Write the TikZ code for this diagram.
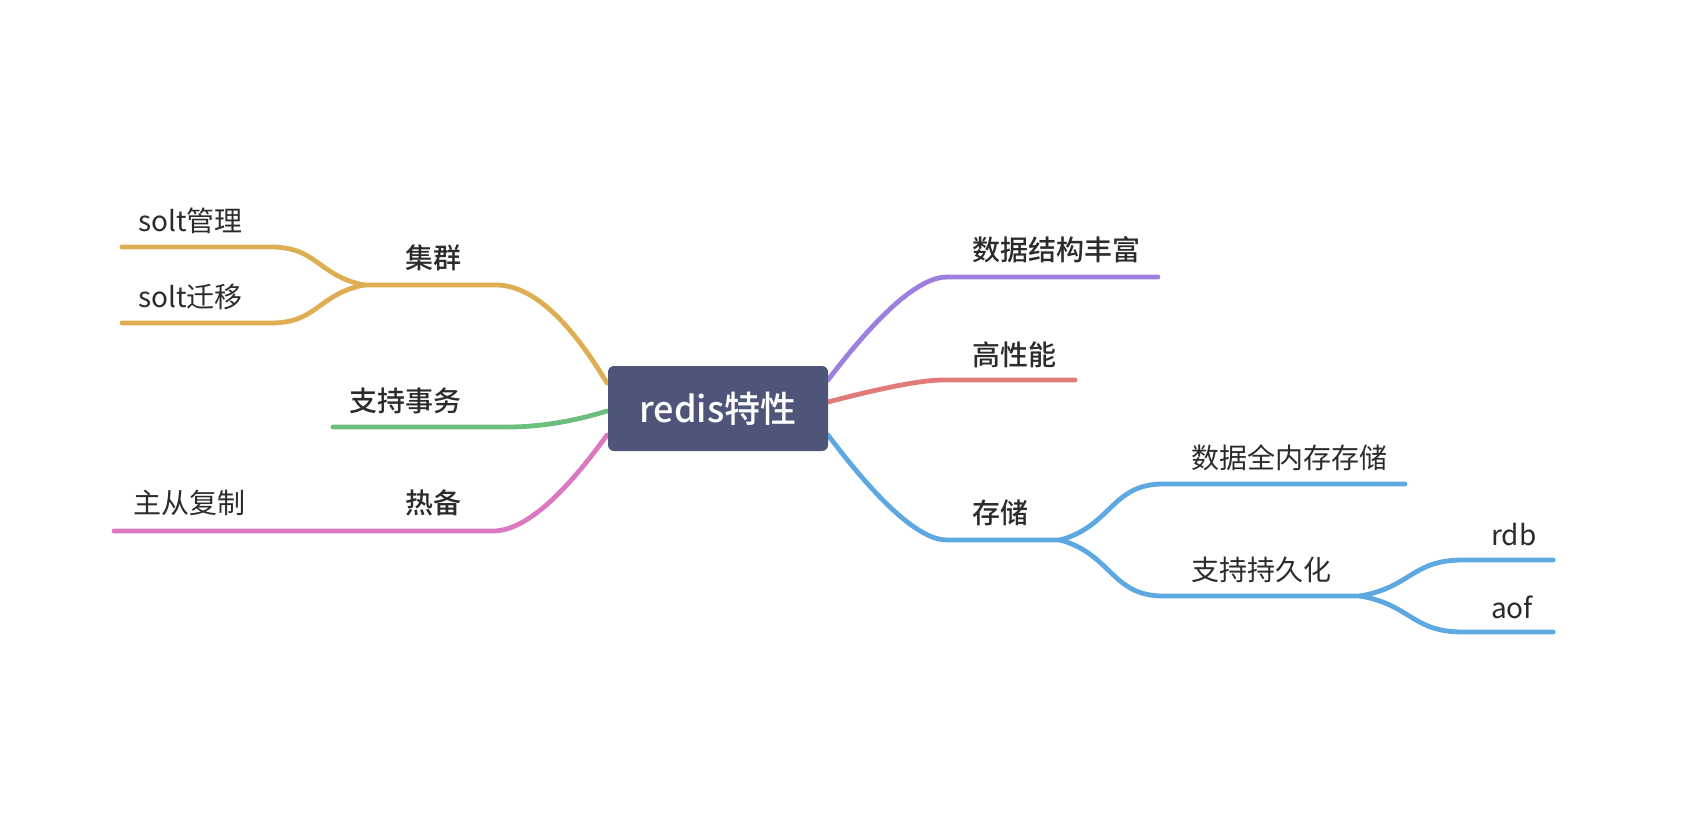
\documentclass[tikz,border=0pt]{standalone}
\usepackage{fontspec}
\setmainfont{Noto Sans CJK SC}
\newfontfamily\medfont{Noto Sans CJK SC Medium}
\definecolor{cgold}{HTML}{DDAE52}
\definecolor{cgreen}{HTML}{6BBE7B}
\definecolor{cpink}{HTML}{DC78C2}
\definecolor{cpurple}{HTML}{9C7FDE}
\definecolor{cred}{HTML}{E07B79}
\definecolor{cblue}{HTML}{5DA8E0}
\definecolor{cbox}{HTML}{4E5579}
\definecolor{ctext}{HTML}{2B2B2B}
\begin{document}
\begin{tikzpicture}[x=1pt,y=-1pt,
  conn/.style={line width=4.8pt, line cap=round, line join=round},
  lbl/.style={inner sep=0pt, text=ctext, font=\fontsize{28}{34}\selectfont},
  blbl/.style={inner sep=0pt, text=ctext, font=\fontsize{28}{34}\selectfont\medfont},
  rootbox/.style={fill=cbox, rounded corners=6pt, minimum width=220pt, minimum height=85pt, inner sep=0pt, text=white, font=\fontsize{36}{40}\selectfont\medfont}
]
\useasboundingbox (0,0) rectangle (1686,824);
% branch points
\coordinate (rPu) at (828,380);
\coordinate (rRe) at (828,402);
\coordinate (rBl) at (828,435);
\coordinate (lGo) at (607,383);
\coordinate (lGr) at (607,411);
\coordinate (lPi) at (607,435);
% purple
\coordinate (puQ) at (947,277);
\coordinate (puE) at (1158,277);
% red
\coordinate (reQ) at (943,380);
\coordinate (reE) at (1075,380);
% blue
\coordinate (blQ) at (947,540);
\coordinate (blS) at (1060,540);
\coordinate (b1Q) at (1163,484);
\coordinate (b1E) at (1405,484);
\coordinate (b2Q) at (1163,596);
\coordinate (b2S) at (1360,596);
\coordinate (b3Q) at (1463,560);
\coordinate (b3E) at (1553,560);
\coordinate (b4Q) at (1463,632);
\coordinate (b4E) at (1553,632);
% gold
\coordinate (goQ) at (496,285);
\coordinate (goS) at (364,285);
\coordinate (g1Q) at (271,247);
\coordinate (g1E) at (122,247);
\coordinate (g2Q) at (271,323);
\coordinate (g2E) at (122,323);
% green
\coordinate (grQ) at (507,427);
\coordinate (grE) at (333,427);
% pink
\coordinate (piQ) at (493,531);
\coordinate (piE) at (114,531);

% connectors
\draw[conn, cpurple] (rPu) .. controls (880.3,311.3) and (920,277) .. (puQ) -- (puE);
\draw[conn, cred] (rRe) .. controls (884,387.3) and (922.3,380) .. (reQ) -- (reE);
\draw[conn, cblue] (rBl) .. controls (880.7,505) and (920.3,540) .. (blQ) -- (blS);
\draw[conn, cblue] (blS) .. controls (1111.5,526) and (1111.5,484) .. (b1Q) -- (b1E);
\draw[conn, cblue] (blS) .. controls (1111.5,554) and (1111.5,596) .. (b2Q) -- (b2S);
\draw[conn, cblue] (b2S) .. controls (1411.5,587) and (1411.5,560) .. (b3Q) -- (b3E);
\draw[conn, cblue] (b2S) .. controls (1411.5,605) and (1411.5,632) .. (b4Q) -- (b4E);
\draw[conn, cgold] (lGo) .. controls (567.7,317.7) and (530.7,285) .. (goQ) -- (goS);
\draw[conn, cgold] (goS) .. controls (317.5,275.5) and (317.5,247) .. (g1Q) -- (g1E);
\draw[conn, cgold] (goS) .. controls (317.5,294.5) and (317.5,323) .. (g2Q) -- (g2E);
\draw[conn, cgreen] (lGr) .. controls (572.3,421.7) and (539,427) .. (grQ) -- (grE);
\draw[conn, cpink] (lPi) .. controls (561,499) and (523,531) .. (piQ) -- (piE);

% root
\node[rootbox] (root) at (718,408.5) {redis特性};

% labels
\node[blbl, anchor=west] (n1) at (972,250) {数据结构丰富};
\node[blbl, anchor=west] (n2) at (972,355) {高性能};
\node[blbl, anchor=west] (n3) at (972,513) {存储};
\node[lbl, anchor=west] (n31) at (1191,458) {数据全内存存储};
\node[lbl, anchor=west] (n32) at (1191,570) {支持持久化};
\node[lbl, anchor=west] (n321) at (1491,535) {rdb};
\node[lbl, anchor=west] (n322) at (1491,607) {aof};
\node[blbl, anchor=east] (n4) at (462,258) {集群};
\node[lbl, anchor=west] (n41) at (138,221) {solt管理};
\node[lbl, anchor=west] (n42) at (138,297) {solt迁移};
\node[blbl, anchor=east] (n5) at (462,401) {支持事务};
\node[blbl, anchor=east] (n6) at (462,503) {热备};
\node[lbl, anchor=west] (n61) at (133,503) {主从复制};
\end{tikzpicture}
\end{document}
